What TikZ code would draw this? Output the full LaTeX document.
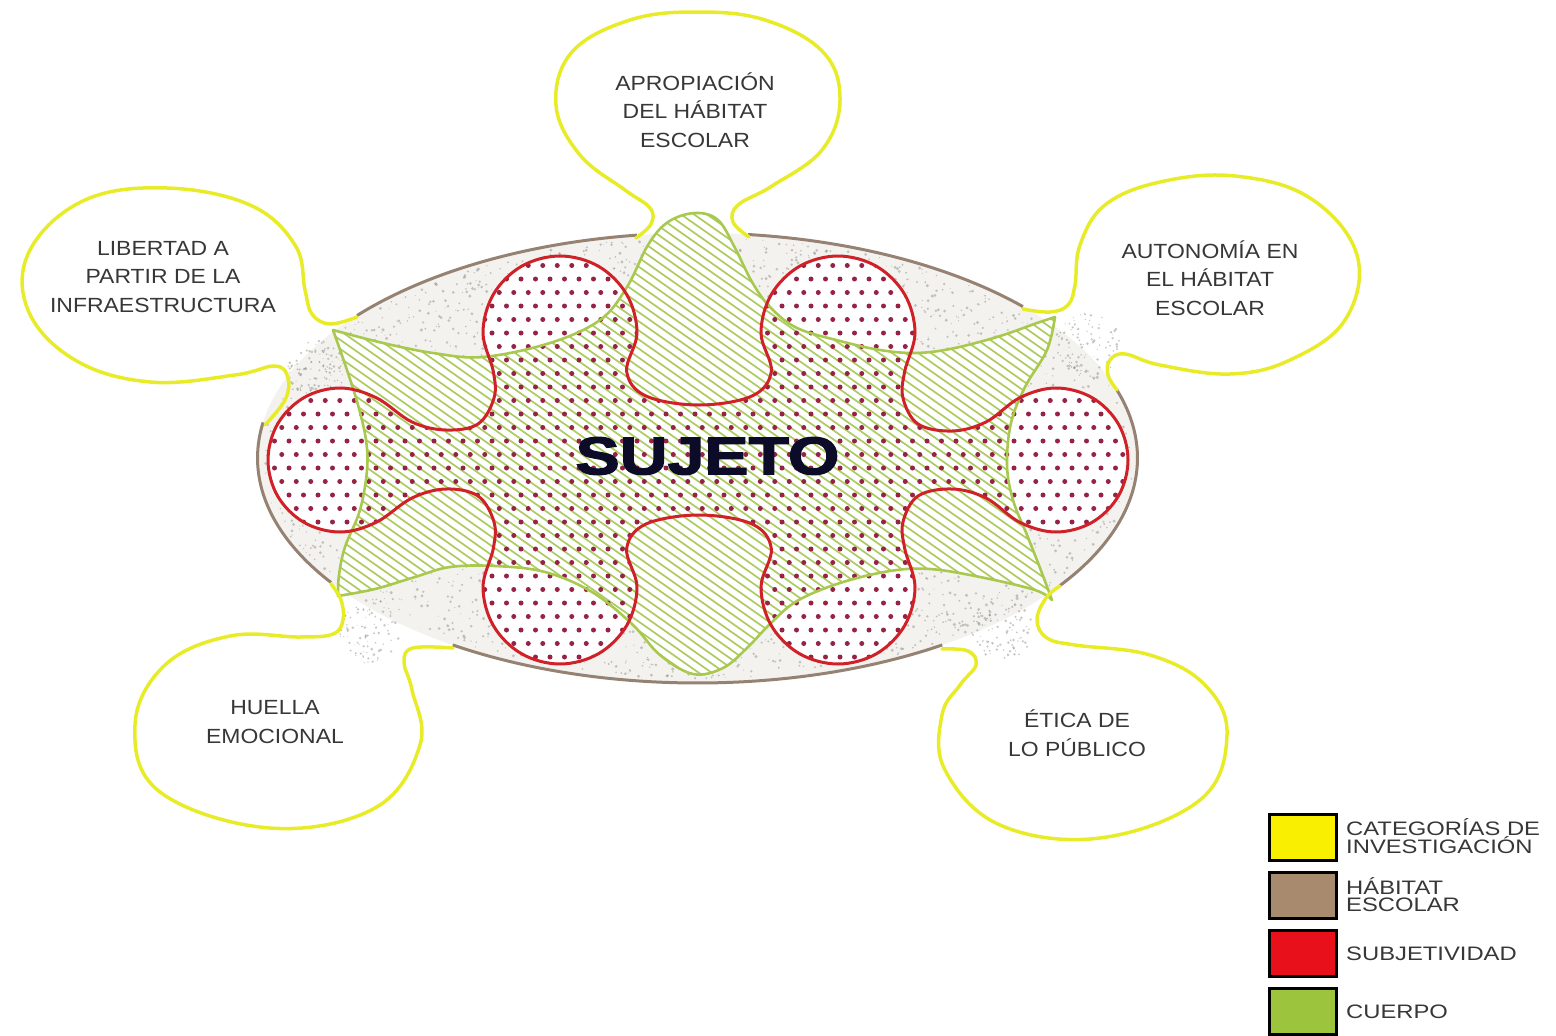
\documentclass[tikz,border=0pt]{standalone}
\usepackage{fontspec}
\setmainfont{Liberation Sans}
\newfontfamily\lblfont[FakeStretch=1.12]{Liberation Sans}
\newfontfamily\legfont[FakeStretch=1.22]{Liberation Sans}
\newfontfamily\sujfont[FakeStretch=1.25,FakeBold=2.5]{Liberation Sans}
\definecolor{bubY}{RGB}{232,236,40}
\definecolor{cuerpo}{RGB}{168,200,78}
\definecolor{hatchG}{RGB}{172,204,96}
\definecolor{subjred}{RGB}{208,32,40}
\definecolor{dotR}{RGB}{150,35,70}
\definecolor{brownL}{RGB}{150,130,115}
\definecolor{ellFill}{RGB}{243,242,238}
\definecolor{speckG}{RGB}{135,135,130}
\definecolor{txtG}{RGB}{55,55,55}
\definecolor{sujC}{RGB}{12,12,40}
\definecolor{legY}{RGB}{248,240,0}
\definecolor{legB}{RGB}{168,138,110}
\definecolor{legR}{RGB}{232,16,26}
\definecolor{legG}{RGB}{156,196,60}

\newcommand\RedShape[1]{#1 plot[smooth cycle, tension=0.6] coordinates {
(493.3,371.5) (483,333) (493.3,294.5) (521.5,266.3) (560,256) (598.5,266.3) (626.7,294.5) (637,333) (626.7,371.5)
(646,396) (699,405) (752,396)
(771.3,371.5) (761,333) (771.3,294.5) (799.5,266.3) (838,256) (876.5,266.3) (904.7,294.5) (915,333) (904.7,371.5)
(903,398) (918,424) (952,431) (986,422)
(1020,397.6) (1056,388) (1092,397.6) (1118.4,424) (1128,460) (1118.4,496) (1092,522.4) (1056,532) (1020,522.4)
(986,498) (952,489) (918,496) (903,522)
(904.7,548.5) (915,587) (904.7,625.5) (876.5,653.7) (838,664) (799.5,653.7) (771.3,625.5) (761,587) (771.3,548.5)
(752,524) (699,515) (646,524)
(626.7,548.5) (637,587) (626.7,625.5) (598.5,653.7) (560,664) (521.5,653.7) (493.3,625.5) (483,587) (493.3,548.5)
(494,522) (478,496) (446,489) (412,498)
(376,522.4) (340,532) (304,522.4) (277.6,496) (268,460) (277.6,424) (304,397.6) (340,388) (376,397.6)
(412,422) (446,430) (478,424) (494,398)
};}

\newcommand\GreenShape[1]{#1 plot[smooth, tension=0.6] coordinates {(333,330) (383,343) (433,353) (483,357) (550,343) (600,320) (627,287) (648,245) (668,222) (695,213) (718,220) (735,248) (752,282) (770,307) (797,328) (840,341) (880,350) (915,353) (950,349) (997,337) (1037,323) (1055,317)}
-- plot[smooth, tension=0.6] coordinates {(1055,317) (1047,350) (1025,387) (1011,423) (1007,465) (1013,500) (1027,535) (1040,568) (1052,600)}
-- plot[smooth, tension=0.6] coordinates {(1052,600) (1035,590) (980,577) (930,569) (890,571) (840,583) (797,601) (770,624) (747,648) (723,668) (693,674) (660,655) (632,624) (592,592) (545,572) (495,566) (450,567) (415,577) (375,589) (338,596)}
-- plot[smooth, tension=0.6] coordinates {(338,596) (339,575) (345,547) (360,510) (367,470) (366,440) (358,405) (347,370) (333,330)} -- cycle;}

\tikzset{
  bubble/.style={draw=bubY, line width=3.5pt, line join=round, line cap=round},
  greenline/.style={draw=cuerpo, line width=2.6pt, line join=round},
  redline/.style={draw=subjred, line width=3pt},
  hatchline/.style={draw=hatchG, line width=1.7pt},
  dotfill/.style={fill=dotR},
  speck/.style={fill=speckG, opacity=0.45},
  brownline/.style={draw=brownL, line width=3pt},
  lbl/.style={align=center, text=txtG, inner sep=0pt, font={\lblfont\fontsize{20.5}{28.5}\selectfont}},
  legbox/.style={draw=black, line width=3pt, minimum width=67pt, minimum height=46pt, inner sep=0pt},
  legtxt/.style={anchor=west, align=left, inner sep=0pt, text=txtG, font={\legfont\fontsize{19.5}{17}\selectfont}}
}

\begin{document}
\begin{tikzpicture}[x=1pt,y=-1pt]
\useasboundingbox (0,0) rectangle (1556,1036);

% habitat escolar ellipse
\fill[ellFill] (697.5,458) ellipse [x radius=440, y radius=225];
\pgfmathsetseed{12}
\foreach \k in {1,...,3000}{
  \pgfmathsetmacro\ang{360*rnd}
  \pgfmathsetmacro\rr{0.3+0.7*sqrt(rnd)}
  \pgfmathsetmacro\sx{697.5+436*\rr*cos(\ang)}
  \pgfmathsetmacro\sy{458+221*\rr*sin(\ang)}
  \pgfmathsetmacro\sr{0.5+1.2*rnd}
  \fill[speck] (\sx,\sy) circle (\sr);
}
% dust spilling into the necks of the bubbles
\foreach \cx/\cy in {318/372, 1088/345, 372/632, 1002/628}{
  \foreach \k in {1,...,90}{
    \pgfmathsetmacro\ang{360*rnd}
    \pgfmathsetmacro\rr{32*sqrt(rnd)}
    \pgfmathsetmacro\sx{\cx+\rr*cos(\ang)}
    \pgfmathsetmacro\sy{\cy+\rr*sin(\ang)}
    \pgfmathsetmacro\sr{0.5+1.0*rnd}
    \fill[speck] (\sx,\sy) circle (\sr);
  }
}
\foreach \s/\e in {56.2/123.8, 146.4/189.1, 219.3/262.1, 276.6/317.7, 342.4/394.5}{
  \draw[brownline] ({697.5+440*cos(\s)},{458+225*sin(\s)}) arc[start angle=\s, end angle=\e, x radius=440, y radius=225];
}

% cuerpo (green) and subjetividad (red) fills
\GreenShape{\fill[white]}
\RedShape{\fill[white]}
\begin{scope}
  \GreenShape{\clip}
  \foreach \a in {-620,-607,...,1200}{
    \draw[hatchline] (\a,150) -- ++(800,560);
  }
\end{scope}
\begin{scope}
  \RedShape{\clip}
  \foreach \j in {0,...,30}{
    \foreach \i in {0,...,61}{
      \fill[dotfill] ({260+14.5*\i+7.25*mod(\j,2)},{252+13.5*\j}) circle (2.5);
    }
  }
\end{scope}
\GreenShape{\draw[greenline]}
\RedShape{\draw[redline]}

% categories (yellow bubbles)
\draw[bubble] plot[smooth, tension=0.65] coordinates {(636,238) (651,224) (650,208) (625,190) (580,155) (556,105) (572,52) (630,20) (697,12) (765,20) (823,52) (840,100) (822,150) (772,186) (738,205) (733,222) (749,237)};
\draw[bubble] plot[smooth, tension=0.65] coordinates {(357,317) (330,324) (312,314) (305,290) (295,245) (250,205) (167,188) (85,200) (30,250) (28,310) (75,360) (150,382) (235,375) (275,366) (288,378) (285,400) (265,425)};
\draw[bubble] plot[smooth, tension=0.65] coordinates {(1023,309) (1050,312) (1068,305) (1075,285) (1080,245) (1105,205) (1160,182) (1235,176) (1310,198) (1357,255) (1345,320) (1290,360) (1230,374) (1160,365) (1125,354) (1110,360) (1108,375) (1117,390)};
\draw[bubble] plot[smooth, tension=0.65] coordinates {(331,584) (341,600) (343,620) (333,634) (300,637) (230,636) (165,665) (135,725) (160,792) (270,828) (375,808) (420,745) (412,690) (404,662) (413,648) (453,648)};
\draw[bubble] plot[smooth, tension=0.65] coordinates {(1060,586) (1046,598) (1037,620) (1047,638) (1075,645) (1150,655) (1205,685) (1227,735) (1200,800) (1100,838) (1000,825) (945,770) (942,715) (960,685) (976,665) (968,651) (942,649)};

% texts
\node[lbl] (tApro) at (695,110) {APROPIACIÓN\\DEL HÁBITAT\\ESCOLAR};
\node[lbl] (tLib) at (163,277) {LIBERTAD A\\PARTIR DE LA\\INFRAESTRUCTURA};
\node[lbl] (tAuto) at (1210,278) {AUTONOMÍA EN\\EL HÁBITAT\\ESCOLAR};
\node[lbl] (tHuella) at (275,722) {HUELLA\\EMOCIONAL};
\node[lbl] (tEtica) at (1077,733) {ÉTICA DE\\LO PÚBLICO};
\node[inner sep=0pt, text=sujC, font={\sujfont\bfseries\fontsize{53}{53}\selectfont}] (tSujeto) at (707.5,456) {SUJETO};

% legend
\node[legbox, fill=legY] (bY) at (1303,837.5) {};
\node[legbox, fill=legB] (bB) at (1303,895) {};
\node[legbox, fill=legR] (bR) at (1303,953) {};
\node[legbox, fill=legG] (bG) at (1303,1011.5) {};
\node[legtxt] (lCat) at (1346,836) {CATEGORÍAS DE\\INVESTIGACIÓN};
\node[legtxt] (lHab) at (1346,895) {HÁBITAT\\ESCOLAR};
\node[legtxt] (lSub) at (1346,954) {SUBJETIVIDAD};
\node[legtxt] (lCue) at (1346,1012) {CUERPO};
\end{tikzpicture}
\end{document}
